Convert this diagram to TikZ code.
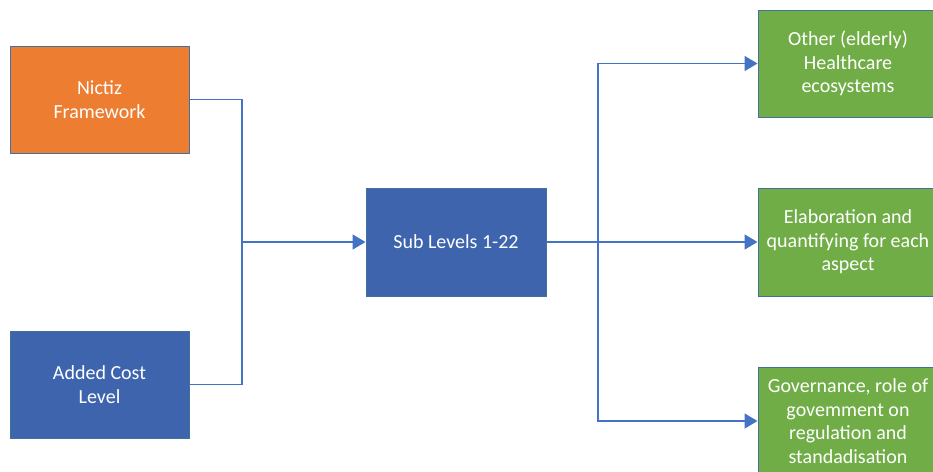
\documentclass[tikz,border=0pt]{standalone}
\usepackage{fontspec}
\setmainfont{Carlito}
\usetikzlibrary{arrows.meta}
\definecolor{boxorange}{HTML}{ED7D31}
\definecolor{boxblue}{HTML}{3D64AD}
\definecolor{boxgreen}{HTML}{70AD47}
\definecolor{boxline}{HTML}{41719C}
\definecolor{connline}{HTML}{4472C4}
\tikzset{
  box/.style={draw=boxline, line width=1pt, rectangle, minimum width=179pt, minimum height=107pt,
    inner sep=0pt, text=white, align=center, font=\fontsize{20}{23.5}\selectfont},
  conn/.style={draw=connline, line width=1.6pt},
  connarrow/.style={conn, -{Triangle[length=13pt,width=15pt]}},
}
\begin{document}
\begin{tikzpicture}[x=1pt,y=-1pt]
\useasboundingbox (0,0) rectangle (933,471);
\clip (0,0) rectangle (933,471);
\fill[white] (0,0) rectangle (933,471);
\node[box, fill=boxorange] (nictiz) at (99.5,99.5) {Nictiz\\Framework};
\node[box, fill=boxblue] (added) at (99.5,384.5) {Added Cost\\Level};
\node[box, fill=boxblue, minimum width=180pt, minimum height=108pt] (sub) at (456,242) {Sub Levels 1-22};
\node[box, fill=boxgreen, minimum width=180pt] (g1) at (848,63.5) {Other (elderly)\\Healthcare\\ecosystems};
\node[box, fill=boxgreen, minimum width=180pt, minimum height=108pt] (g2) at (848,242) {Elaboration and\\quantifying for each\\aspect};
\node[box, fill=boxgreen, minimum width=180pt, minimum height=108pt] (g3) at (848,421) {Governance, role of\\govemment on\\regulation and\\standadisation};
\coordinate (j1) at (242,242);
\coordinate (j2) at (598,242);
\draw[conn] (nictiz.east) -| (j1);
\draw[conn] (added.east) -| (j1);
\draw[connarrow] (j1) -- (sub.west);
\draw[conn] (sub.east) -- (j2);
\draw[connarrow] (j2) |- (g1.west);
\draw[connarrow] (j2) -- (g2.west);
\draw[connarrow] (j2) |- (g3.west);
\end{tikzpicture}
\end{document}
